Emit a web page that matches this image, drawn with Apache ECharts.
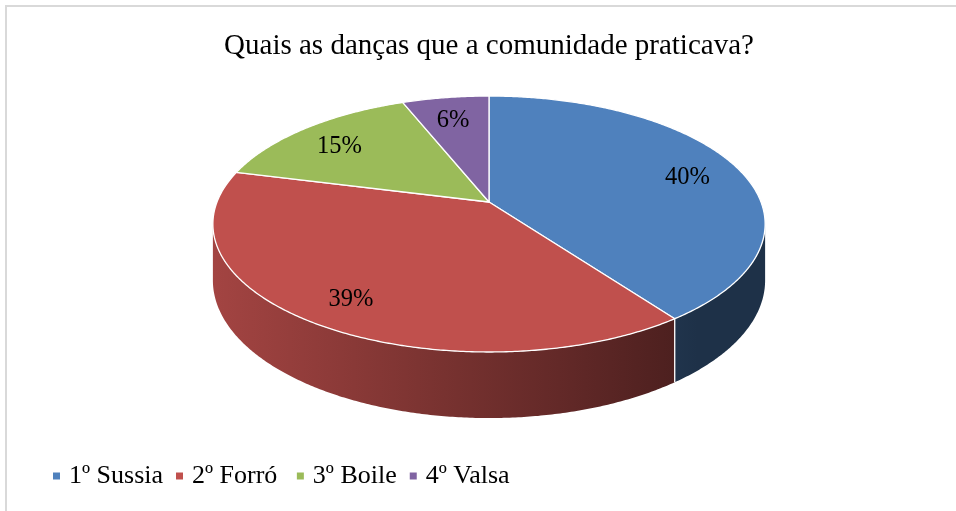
<!DOCTYPE html>
<html><head><meta charset="utf-8">
<script src="https://cdn.jsdelivr.net/npm/echarts@6/dist/echarts.min.js"></script>
<style>html,body{margin:0;padding:0;background:#fff;overflow:hidden}#c{width:956px;height:511px}</style>
</head><body><div id="c"></div>
<script>
// ---- data ----
const categories = ['1º Sussia', '2º Forró ', '3º Boile', '4º Valsa'];
const values = [40, 39, 15, 6];
const labels = ['40%', '39%', '15%', '6%'];
const colors = ['#4F81BD', '#C0504D', '#9BBB59', '#8064A2'];
const titleText = 'Quais as danças que a comunidade praticava?';

// ---- layout of the tilted (perspective) pie ----
const PIE = {cx: 489, cy: 202, a: 272, b: 124.2, k: 0.172, depth: 54.7, labelR: 0.8, labelDy: 5};
const FONT = '"Liberation Serif", "Times New Roman", serif';

const total = values.reduce((s, v) => s + v, 0);
const cum = []; let acc = 0; values.forEach(v => { cum.push(acc); acc += v; });

function proj(theta, f) {
  const t = theta * Math.PI / 180;
  const u = f * Math.sin(t), v = -f * Math.cos(t);
  const w = 1 - PIE.k * v;
  return [PIE.cx + PIE.a * u / w, PIE.cy + PIE.b * v / w, w];
}
function hexToRgb(h) { const n = parseInt(h.slice(1), 16); return [(n >> 16) & 255, (n >> 8) & 255, n & 255]; }
function shade(hex, f) { const c = hexToRgb(hex).map(x => Math.round(x * f)); return 'rgb(' + c.join(',') + ')'; }
function shadeFactor(x) { return Math.max(0.38, 0.85 - (x - 214) / (686 - 214) * 0.46); }

function makeRender(i) {
  return function (params, api) {
    const val = api.value(0);
    const a0 = cum[i] / total * 360, a1 = (cum[i] + val) / total * 360;
    const children = [];
    const vis0 = Math.acos(-PIE.k) * 180 / Math.PI, vis1 = 360 - vis0;
    const s = Math.max(a0, vis0), e = Math.min(a1, vis1);
    if (e > s) {
      const pts = [], bot = [];
      const n = Math.max(2, Math.ceil((e - s) * 2));
      for (let j = 0; j <= n; j++) {
        const th = s + (e - s) * j / n;
        const p = proj(th, 1);
        pts.push([p[0], p[1]]);
        bot.push([p[0], p[1] + PIE.depth / p[2]]);
      }
      const xs = pts.map(p => p[0]);
      const xmin = Math.min(...xs), xmax = Math.max(...xs);
      const stops = [];
      for (let j = 0; j <= 4; j++) {
        const x = xmin + (xmax - xmin) * j / 4;
        stops.push({offset: j / 4, color: shade(colors[i], shadeFactor(x))});
      }
      children.push({
        type: 'polygon',
        shape: {points: pts.concat(bot.reverse())},
        style: {fill: new echarts.graphic.LinearGradient(xmin, 0, xmax, 0, stops, true), stroke: null}
      });
      if (a0 >= vis0 && a0 <= vis1 && a0 > 0) {
        const p = proj(a0, 1);
        children.push({type: 'line', shape: {x1: p[0], y1: p[1], x2: p[0], y2: p[1] + PIE.depth / p[2]},
          style: {stroke: '#ffffff', lineWidth: 1.3}});
      }
    }
    const top = [[PIE.cx, PIE.cy]];
    const n2 = Math.max(2, Math.ceil((a1 - a0) * 2));
    for (let j = 0; j <= n2; j++) {
      const p = proj(a0 + (a1 - a0) * j / n2, 1);
      top.push([p[0], p[1]]);
    }
    children.push({type: 'polygon', shape: {points: top},
      style: {fill: colors[i], stroke: '#ffffff', lineWidth: 1.3, lineJoin: 'round'}});
    const lp = proj((a0 + a1) / 2, PIE.labelR);
    children.push({type: 'text', z2: 10,
      style: {text: labels[i], x: lp[0], y: lp[1] + PIE.labelDy, align: 'center', verticalAlign: 'middle',
        font: '24.5px ' + FONT, fill: '#000'}});
    return {type: 'group', children: children};
  };
}

const chart = echarts.init(document.getElementById('c'), null, {renderer: 'canvas'});
chart.setOption({
  animation: false,
  backgroundColor: '#ffffff',
  title: {
    text: titleText, left: 489, top: 31, textAlign: 'center', padding: 0,
    textStyle: {fontFamily: FONT, fontSize: 29, fontWeight: 'normal', color: '#000', lineHeight: 30}
  },
  legend: {
    data: categories, left: 53, top: 463, padding: 0, icon: 'rect', itemWidth: 7, itemHeight: 7, itemGap: 13,
    textStyle: {fontFamily: FONT, fontSize: 26, color: '#000', padding: [0, 0, 0, 4]}
  },
  graphic: [{type: 'rect', silent: true, z: -10, shape: {x: 6, y: 6, width: 1200, height: 800},
    style: {fill: 'none', stroke: '#d9d9d9', lineWidth: 2}}],
  series: categories.map((name, i) => ({
    type: 'custom', name: name, coordinateSystem: 'none',
    itemStyle: {color: colors[i]},
    data: [values[i]],
    renderItem: makeRender(i)
  }))
});
</script></body></html>
